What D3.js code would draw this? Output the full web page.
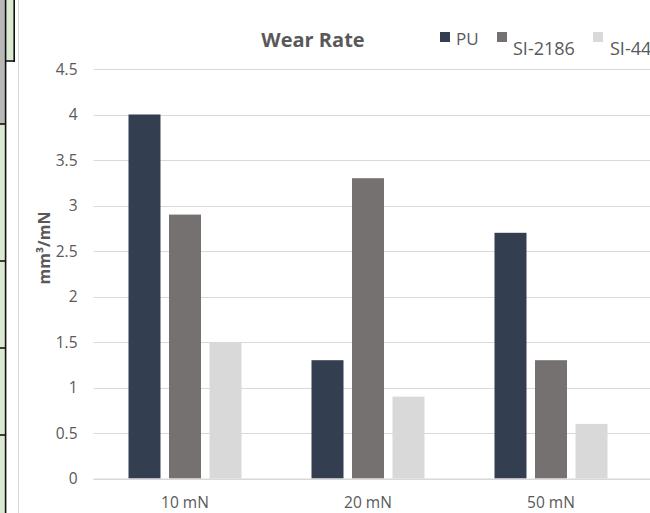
<!DOCTYPE html>
<html>
<head>
<meta charset="utf-8">
<script src="https://cdn.jsdelivr.net/npm/d3@7"></script>
<style>
  html, body { margin: 0; padding: 0; background: #fff; }
  svg { display: block; font-family: "Open Sans", sans-serif; }
</style>
</head>
<body>
<svg id="chart" width="650" height="513"></svg>
<script>
// Wear rate by applied load, per material
const categories = ["10 mN", "20 mN", "50 mN"];
const seriesNames = ["PU", "SI-2186", "SI-44"];
const puValues = [4.0, 1.3, 2.7];
const si2186Values = [2.9, 3.3, 1.3];
const si44Values = [1.5, 0.9, 0.6];
const yTicks = [0, 0.5, 1, 1.5, 2, 2.5, 3, 3.5, 4, 4.5];
const seriesColors = ["#333f50", "#767171", "#d9d9d9"];

const seriesValues = [puValues, si2186Values, si44Values];
const rows = categories.map((c, i) => ({
  category: c,
  values: seriesNames.map((s, j) => ({ series: s, value: seriesValues[j][i] }))
}));

const svg = d3.select("#chart");
const textColor = "#595959";
const gridColor = "#d9d9d9";

// Spreadsheet cells peeking in at the left edge
const sheet = svg.append("g");
sheet.append("rect").attr("x", 0).attr("y", 0).attr("width", 6).attr("height", 124).attr("fill", "#b8b8b8");
sheet.append("rect").attr("x", 0).attr("y", 124).attr("width", 6).attr("height", 389).attr("fill", "#dbe9d2");
sheet.append("rect").attr("x", 6).attr("y", 0).attr("width", 8.5).attr("height", 60.5).attr("fill", "#dbe9d2");
sheet.append("line").attr("x1", 14.2).attr("x2", 14.2).attr("y1", 0).attr("y2", 62).attr("stroke", "#111").attr("stroke-width", 1.6);
sheet.append("line").attr("x1", 5.5).attr("x2", 15).attr("y1", 61).attr("y2", 61).attr("stroke", "#111").attr("stroke-width", 1.6);
sheet.append("line").attr("x1", 5.6).attr("x2", 5.6).attr("y1", 0).attr("y2", 513).attr("stroke", "#111").attr("stroke-width", 1.6);
[124, 261, 348, 435].forEach(y => {
  sheet.append("line").attr("x1", 0).attr("x2", 6).attr("y1", y).attr("y2", y).attr("stroke", "#111").attr("stroke-width", 1.6);
});
// Chart frame edge
svg.append("line").attr("x1", 18.5).attr("x2", 18.5).attr("y1", 0).attr("y2", 513).attr("stroke", "#d9d9d9").attr("stroke-width", 1);

// Plot area
const plotLeft = 93.5, plotRight = 642.5, gridRight = 650;
const plotTop = 69, plotBottom = 478.5;

const y = d3.scaleLinear().domain([0, 4.5]).range([plotBottom, plotTop]);
const x0 = d3.scaleBand().domain(categories).range([plotLeft, plotRight]).padding(0);
const groupPad = 35;
const x1 = d3.scaleBand().domain(seriesNames)
  .range([groupPad, x0.bandwidth() - groupPad]).paddingInner(0.21).paddingOuter(0);
const color = d3.scaleOrdinal().domain(seriesNames).range(seriesColors);

// Gridlines
const yAxis = d3.axisLeft(y).tickValues(yTicks).tickSize(0).tickPadding(0)
  .tickFormat(d3.format("~g"));
const yG = svg.append("g").attr("transform", `translate(${plotLeft},0)`);
yG.selectAll(".grid").data(yTicks).join("line")
  .attr("class", "grid")
  .attr("x1", 0).attr("x2", gridRight - plotLeft)
  .attr("y1", d => Math.round(y(d)) + 0.5).attr("y2", d => Math.round(y(d)) + 0.5)
  .attr("stroke", gridColor).attr("stroke-width", 1);
yG.call(yAxis);
yG.select(".domain").remove();
yG.selectAll(".tick text")
  .attr("x", -16)
  .attr("dy", "0.35em")
  .attr("fill", textColor)
  .style("font-size", "15.5px")
  .style("font-family", "'Open Sans', sans-serif");

// Bars
const groups = svg.append("g").selectAll("g").data(rows).join("g")
  .attr("transform", d => `translate(${x0(d.category)},0)`);
groups.selectAll("rect").data(d => d.values).join("rect")
  .attr("x", d => x1(d.series))
  .attr("width", x1.bandwidth())
  .attr("y", d => y(d.value))
  .attr("height", d => y(0) - y(d.value))
  .attr("fill", d => color(d.series));

// Category axis
const xAxis = d3.axisBottom(x0).tickSize(0).tickPadding(18);
const xG = svg.append("g").attr("transform", `translate(0,${plotBottom})`).call(xAxis);
xG.select(".domain").remove();
xG.append("line").attr("x1", plotLeft).attr("x2", gridRight).attr("y1", 0.5).attr("y2", 0.5)
  .attr("stroke", gridColor).attr("stroke-width", 1.2);
xG.selectAll(".tick text")
  .attr("fill", textColor)
  .style("font-size", "15.5px")
  .style("font-family", "'Open Sans', sans-serif");

// Y axis title
svg.append("text")
  .attr("transform", "translate(50,248) rotate(-90)")
  .attr("text-anchor", "middle")
  .attr("fill", textColor)
  .style("font-size", "16px")
  .style("font-weight", "bold")
  .text("mm³/mN");

// Title
svg.append("text")
  .attr("x", 313).attr("y", 47)
  .attr("text-anchor", "middle")
  .attr("fill", textColor)
  .style("font-size", "20px")
  .style("font-weight", "bold")
  .text("Wear Rate");

// Legend
const legendItems = [
  { name: seriesNames[0], sx: 440, tx: 456, base: 45, size: 17 },
  { name: seriesNames[1], sx: 497, tx: 513, base: 55, size: 18 },
  { name: seriesNames[2], sx: 593, tx: 610, base: 55, size: 18 }
];
const legend = svg.append("g");
legend.selectAll("rect").data(legendItems).join("rect")
  .attr("x", d => d.sx).attr("y", 32).attr("width", 10).attr("height", 10)
  .attr("fill", d => color(d.name));
legend.selectAll("text").data(legendItems).join("text")
  .attr("x", d => d.tx).attr("y", d => d.base)
  .attr("fill", textColor)
  .style("font-size", d => d.size + "px")
  .text(d => d.name);
</script>
</body>
</html>
